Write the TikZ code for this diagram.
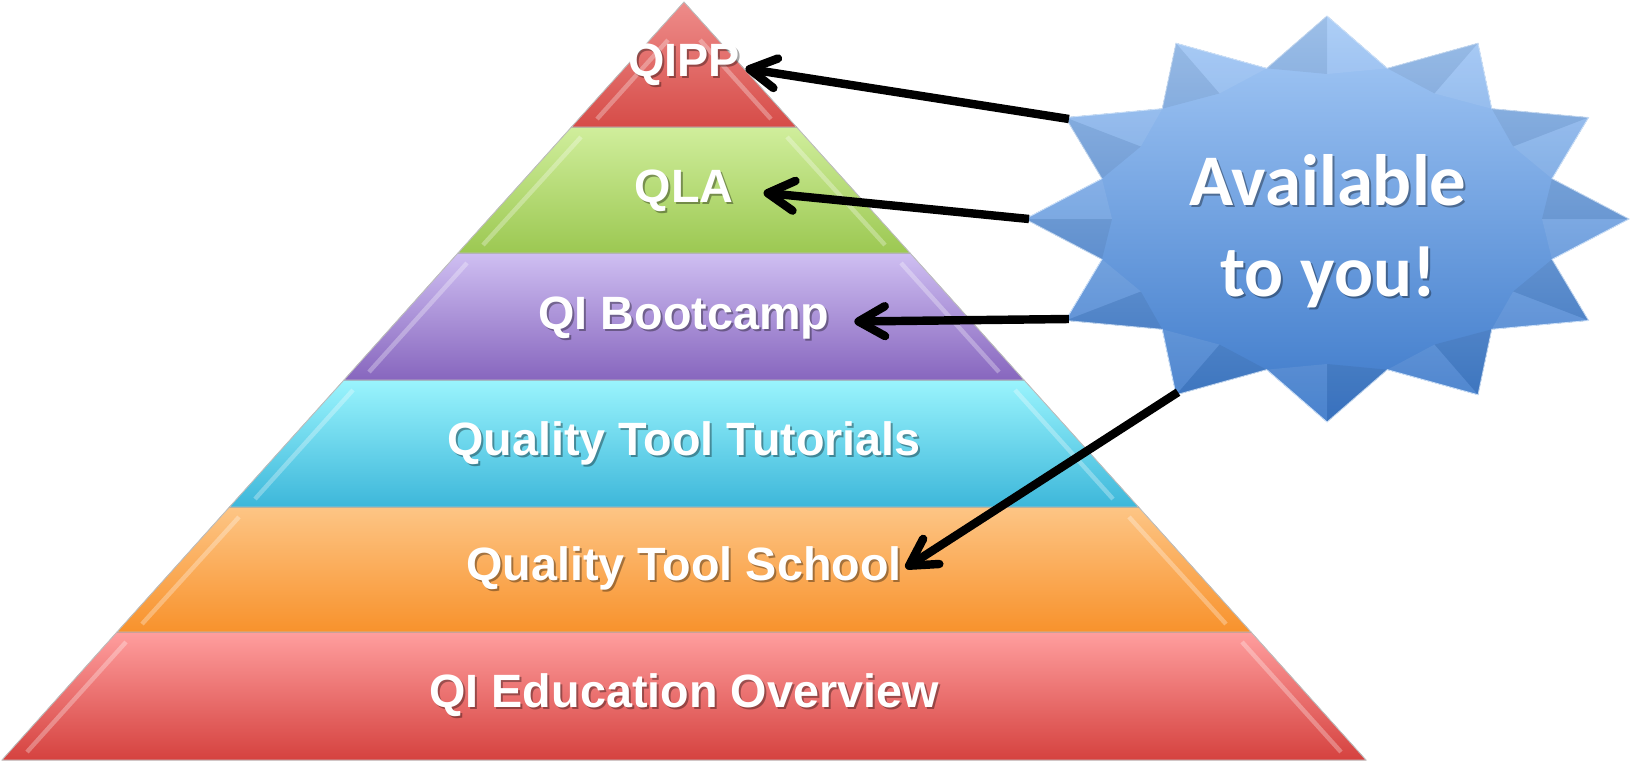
\documentclass[tikz,border=0pt]{standalone}
\usepackage{fontspec}
\setmainfont{Liberation Sans}
\newfontfamily\starfont{Carlito}
\usetikzlibrary{arrows.meta}

\definecolor{qipptop}{HTML}{EE8C8A}
\definecolor{qippbot}{HTML}{D64C48}
\definecolor{qlatop}{HTML}{D0EE9C}
\definecolor{qlabot}{HTML}{9CC852}
\definecolor{boottop}{HTML}{CFBFF2}
\definecolor{bootbot}{HTML}{8766BE}
\definecolor{tuttop}{HTML}{9AF4FD}
\definecolor{tutbot}{HTML}{3DB7DA}
\definecolor{schooltop}{HTML}{FDC585}
\definecolor{schoolbot}{HTML}{F8922C}
\definecolor{overtop}{HTML}{FF9E9E}
\definecolor{overbot}{HTML}{D5423F}
\definecolor{startop}{HTML}{A7CBF7}
\definecolor{starbot}{HTML}{3B78C9}

\begin{document}
\begin{tikzpicture}[x=0.02cm,y=-0.02cm,
    level/.style={draw=black!25, line width=0.5pt},
    bevel/.style={draw=white, opacity=0.3, line width=2.5pt},
    label/.style={text=white, inner sep=0pt, font=\fontsize{26.6}{30}\selectfont\bfseries},
    labelshadow/.style={text=black, opacity=0.35, inner sep=0pt, font=\fontsize{26.6}{30}\selectfont\bfseries},
    pointer/.style={line width=4.8pt, -{Straight Barb[length=15pt,width=17pt,round]}}]
  \useasboundingbox (0,0) rectangle (1633,764);

  \fill[level, top color=overtop, bottom color=overbot] (117,632) -- (1251,632) -- (1366,760) -- (2,760) -- cycle;
  \fill[level, top color=schooltop, bottom color=schoolbot] (229.5,507) -- (1138.5,507) -- (1251,632) -- (117,632) -- cycle;
  \fill[level, top color=tuttop, bottom color=tutbot] (344,380) -- (1024,380) -- (1138.5,507) -- (229.5,507) -- cycle;
  \fill[level, top color=boottop, bottom color=bootbot] (458,253) -- (910,253) -- (1024,380) -- (344,380) -- cycle;
  \fill[level, top color=qlatop, bottom color=qlabot] (571.5,127) -- (796.5,127) -- (910,253) -- (458,253) -- cycle;
  \fill[level, top color=qipptop, bottom color=qippbot] (684,2) -- (796.5,127) -- (571.5,127) -- cycle;

  \draw[bevel] (597,119) -- (668,40);
  \draw[bevel] (771,119) -- (700,40);
  \draw[bevel] (483,245) -- (581,137);
  \draw[bevel] (885,245) -- (787,137);
  \draw[bevel] (369,372) -- (467,263);
  \draw[bevel] (999,372) -- (901,263);
  \draw[bevel] (255,499) -- (353,390);
  \draw[bevel] (1113,499) -- (1015,390);
  \draw[bevel] (142,624) -- (239,517);
  \draw[bevel] (1226,624) -- (1129,517);
  \draw[bevel] (27,752) -- (126,642);
  \draw[bevel] (1341,752) -- (1242,642);

  \node[labelshadow] (qipp-sh) at (686,67) {QIPP};
  \node[labelshadow] (qla-sh) at (686,193) {QLA};
  \node[labelshadow] (boot-sh) at (686,320) {QI Bootcamp};
  \node[labelshadow] (tut-sh) at (686,445) {Quality Tool Tutorials};
  \node[labelshadow] (school-sh) at (686,570) {Quality Tool School};
  \node[labelshadow] (over-sh) at (686,697) {QI Education Overview};

  \node[label] (qipp) at (684,65) {QIPP};
  \node[label] (qla) at (684,191) {QLA};
  \node[label] (boot) at (684,318) {QI Bootcamp};
  \node[label] (tut) at (684,443) {Quality Tool Tutorials};
  \node[label] (school) at (684,568) {Quality Tool School};
  \node[label] (over) at (684,695) {QI Education Overview};

  \begin{scope}[shift={(1327,219)}]
    \fill[top color=startop, bottom color=starbot, draw=startop!60!white, line width=0.5pt]
      (0:302 and 203) \foreach \a in {30,60,...,360} {-- ({\a-15}:233 and 156) -- (\a:302 and 203)} -- cycle;
    \foreach \a in {0,30,...,330} {
      \fill[black, opacity=0.06] (\a:302 and 203) -- ({\a-15}:233 and 156) -- (\a:215 and 145) -- cycle;
      \fill[white, opacity=0.08] (\a:302 and 203) -- ({\a+15}:233 and 156) -- (\a:215 and 145) -- cycle;
    }
    \coordinate (tipA) at (-150:298 and 200);
    \coordinate (tipB) at (180:298 and 200);
    \coordinate (tipC) at (150:298 and 200);
    \coordinate (tipD) at (120:298 and 200);
  \end{scope}

  \node[text=black, opacity=0.35, align=center, font=\starfont\fontsize{41.4}{52}\selectfont\bfseries] (avail-sh) at (1330,233) {Available\\to you!};
  \node[text=white, align=center, font=\starfont\fontsize{41.4}{52}\selectfont\bfseries] (avail) at (1328,231) {Available\\to you!};

  \draw[pointer] (tipA) -- ([xshift=3pt,yshift=-2pt]qipp.east);
  \draw[pointer] (tipB) -- ([xshift=17pt,yshift=-1pt]qla.east);
  \draw[pointer] (tipC) -- ([xshift=14pt,yshift=-2pt]boot.east);
  \draw[pointer] (tipD) -- ([xshift=2pt]school.east);
\end{tikzpicture}
\end{document}
